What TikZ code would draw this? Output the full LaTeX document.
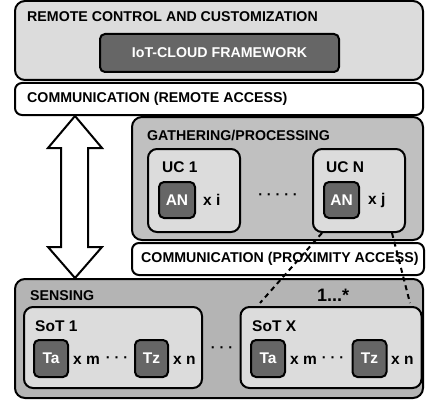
\documentclass[tikz,border=0pt]{standalone}
\usepackage{fontspec}
\setmainfont{Liberation Sans}
\usetikzlibrary{calc}

\definecolor{lightbox}{RGB}{220,220,220}
\definecolor{midbox}{RGB}{192,192,192}
\definecolor{sensebox}{RGB}{180,180,180}
\definecolor{darkbox}{RGB}{102,102,102}

\begin{document}
\begin{tikzpicture}[x=1pt,y=-1pt,font=\bfseries\fontsize{14.2}{16}\selectfont]
    \tikzstyle{layer}=[draw=black,line width=2pt,rounded corners=10pt,inner sep=0pt]
    \tikzstyle{unit}=[layer,fill=lightbox,rounded corners=9pt]
    \tikzstyle{chip}=[draw=black,line width=2pt,rounded corners=5pt,fill=darkbox,text=white,inner sep=0pt,font=\bfseries\fontsize{15.5}{17}\selectfont]
    \tikzstyle{title}=[anchor=west,inner sep=0pt]
    \tikzstyle{label}=[title,font=\bfseries\fontsize{15.5}{17}\selectfont]
    \tikzstyle{link}=[draw=black,line width=2pt,dash pattern=on 5pt off 4pt]

    \useasboundingbox (0,0) rectangle (426,404);

    % remote side
    \node[layer,fill=lightbox,minimum width=408,minimum height=79] (remote) at (219,40.5) {};
    \node[title] (remoteText) at (27,17) {REMOTE CONTROL AND CUSTOMIZATION};
    \node[chip,font=\bfseries\fontsize{14.2}{16}\selectfont,minimum width=239,minimum height=38] (cloud) at (219.5,53) {IoT-CLOUD FRAMEWORK};
    \node[layer,fill=white,rounded corners=7pt,minimum width=408,minimum height=32] (commRemote) at (219,99) {};
    \node[title] (commRemoteText) at (27,99) {COMMUNICATION (REMOTE ACCESS)};

    % gathering / processing
    \node[layer,fill=midbox,minimum width=291,minimum height=123] (gather) at (277.5,178.5) {};
    \node[title] (gatherText) at (147,135) {GATHERING/PROCESSING};
    \node[unit,minimum width=92,minimum height=83] (uc1) at (194,190.5) {};
    \node[label] (uc1Text) at (162,167) {UC 1};
    \node[chip,minimum width=36,minimum height=36] (an1) at (177,200) {AN};
    \node[label] (xi) at (203,200) {x i};
    \node (ucDots) at (278,197) {· · · · ·};
    \node[unit,minimum width=92,minimum height=83] (ucN) at (359,190.5) {};
    \node[label] (ucNText) at (326,167) {UC N};
    \node[chip,minimum width=35,minimum height=36] (anN) at (341.5,200) {AN};
    \node[label] (xj) at (368,200) {x j};
    \node[layer,fill=white,rounded corners=7pt,minimum width=292,minimum height=32] (commProx) at (278,259) {};
    \node[title] (commProxText) at (141,259) {COMMUNICATION (PROXIMITY ACCESS)};

    % sensing
    \node[layer,fill=sensebox,minimum width=408,minimum height=119] (sensing) at (219,338.5) {};
    \node[title] (sensingText) at (30,296) {SENSING};
    \node[title,font=\bfseries\fontsize{18}{20}\selectfont] (mult) at (317,295) {1...*};

    \node[unit,minimum width=178,minimum height=81] (sot1) at (113,347.5) {};
    \node[label] (sot1Text) at (35,326) {SoT 1};
    \node[chip,minimum width=34,minimum height=37] (ta1) at (51,358.5) {Ta};
    \node[label] (xm1) at (73,360) {x m};
    \node (tDots1) at (117,360) {· · ·};
    \node[chip,minimum width=33,minimum height=37] (tz1) at (151.5,358.5) {Tz};
    \node[label] (xn1) at (173,360) {x n};

    \node (sotDots) at (222,350) {· · ·};

    \node[unit,minimum width=181,minimum height=81] (sotX) at (331,347.5) {};
    \node[label] (sotXText) at (252,326) {SoT X};
    \node[chip,minimum width=34,minimum height=37] (taX) at (268,358.5) {Ta};
    \node[label] (xmX) at (290,360) {x m};
    \node (tDotsX) at (333,360) {· · ·};
    \node[chip,minimum width=34,minimum height=37] (tzX) at (369.5,358.5) {Tz};
    \node[label] (xnX) at (391,360) {x n};

    % remote <-> sensing
    \draw[line width=2pt,fill=white,line join=miter]
        (commRemote.south -| 75,0) -- (102,148) -- (88,148) -- (88,247) -- (102,247)
        -- (sensing.north -| 75,0) -- (48,247) -- (61,247) -- (61,148) -- (48,148) -- cycle;

    % proximity links
    \draw[link] ($(ucN.south)+(-37,0)$) -- ($(sotX.north)+(-71,-3)$);
    \draw[link] ($(ucN.south)+(33,0)$) -- ($(sotX.north)+(79,-3)$);
\end{tikzpicture}
\end{document}
